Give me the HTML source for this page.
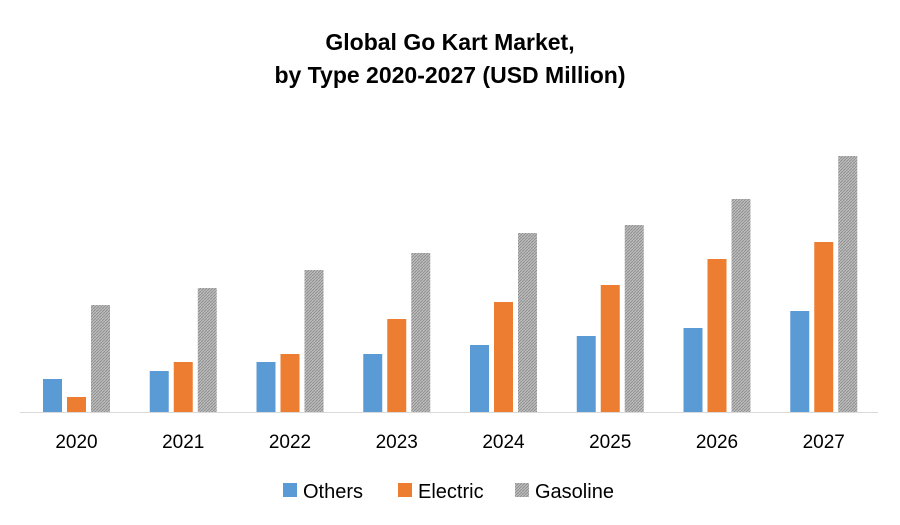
<!DOCTYPE html>
<html><head><meta charset="utf-8"><style>
body{margin:0;background:#fff;}
svg{display:block;font-family:"Liberation Sans",Arial,sans-serif;}
</style></head><body>
<svg id="chart" width="900" height="525">
<defs>
<pattern id="hatch" width="3" height="3" patternUnits="userSpaceOnUse">
<rect width="3" height="3" fill="#bdbdbd"/>
<path d="M0,3 L3,0" stroke="#8f8f8f" stroke-width="1"/>
</pattern>
</defs>
<text x="450" y="50" text-anchor="middle" font-size="23" font-weight="bold" fill="#000">Global Go Kart Market,</text>
<text x="450" y="83" text-anchor="middle" font-size="23" font-weight="bold" fill="#000">by Type 2020-2027 (USD Million)</text>
<line x1="20" y1="412.5" x2="878" y2="412.5" stroke="#d9d9d9" stroke-width="1"/>
<g id="bars"></g>
<g id="xlabels"></g>
<g>
<rect x="283" y="483" width="14" height="14" fill="#5b9bd5"/>
<text x="303" y="498" font-size="20" fill="#000">Others</text>
<rect x="398" y="483" width="14" height="14" fill="#ed7d31"/>
<text x="418" y="498" font-size="20" fill="#000">Electric</text>
<rect x="515" y="483" width="14" height="14" fill="url(#hatch)"/>
<text x="535" y="498" font-size="20" fill="#000">Gasoline</text>
</g>
</svg>
<script>
const categories=["2020","2021","2022","2023","2024","2025","2026","2027"];
const others=[33,41,50,58,67,76,84,101];
const electric=[15,50,58,93,110,127,153,170];
const gasoline=[107,124,142,159,179,187,213,256];
const ns="http://www.w3.org/2000/svg";
const base=412,bw=19,step=106.75,firstCenter=76.5;
function xCenter(i){return firstCenter+step*i;}
function yScale(v){return base-v;}
const series=[{d:others,c:"#5b9bd5",n:"others",o:-24},{d:electric,c:"#ed7d31",n:"electric",o:0},{d:gasoline,c:"url(#hatch)",n:"gasoline",o:24}];
const g=document.getElementById("bars");
const gl=document.getElementById("xlabels");
categories.forEach((cat,i)=>{
  series.forEach(s=>{
    const r=document.createElementNS(ns,"rect");
    const cx=xCenter(i)+s.o;
    r.setAttribute("x",cx-bw/2);
    r.setAttribute("y",yScale(s.d[i]));
    r.setAttribute("width",bw);
    r.setAttribute("height",base-yScale(s.d[i]));
    r.setAttribute("fill",s.c);
    
    
    g.appendChild(r);
  });
  const t=document.createElementNS(ns,"text");
  t.setAttribute("x",xCenter(i));
  t.setAttribute("y",448);
  t.setAttribute("text-anchor","middle");
  t.setAttribute("font-size","19");
  t.textContent=cat;
  
  
  gl.appendChild(t);
});
</script>
</body></html>
